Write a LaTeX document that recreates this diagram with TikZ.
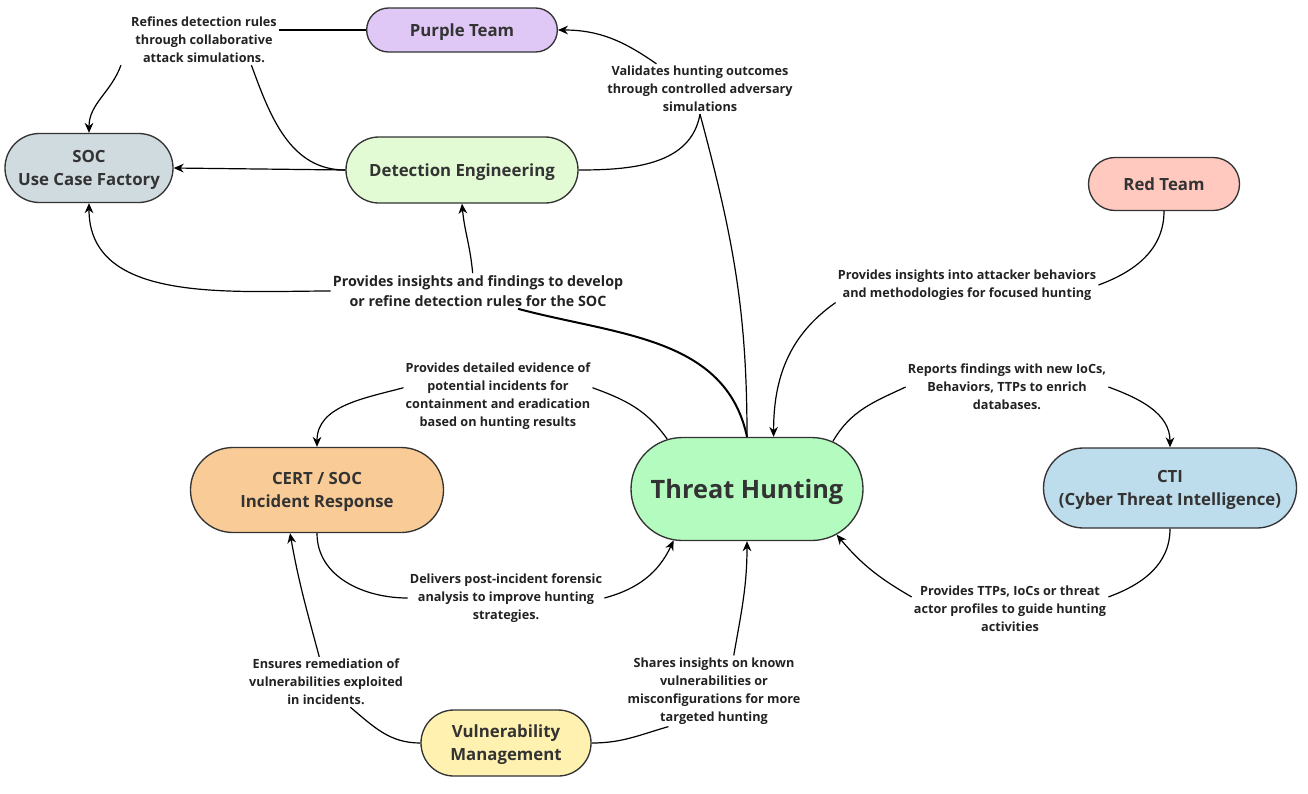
\documentclass[tikz,border=0pt]{standalone}
\usepackage{fontspec}
\setmainfont{Open Sans}
\usetikzlibrary{shapes.misc,arrows.meta,positioning}
\definecolor{edgegrey}{HTML}{333333}
\definecolor{textgrey}{HTML}{333333}
\definecolor{notegrey}{HTML}{222222}
\definecolor{purplefill}{HTML}{DFC8F5}
\definecolor{socfill}{HTML}{D0DBE0}
\definecolor{detfill}{HTML}{E2FBD4}
\definecolor{redfill}{HTML}{FFC9BF}
\definecolor{certfill}{HTML}{F9CC97}
\definecolor{huntfill}{HTML}{B3FBBE}
\definecolor{ctifill}{HTML}{BDDCEC}
\definecolor{vulnfill}{HTML}{FFF2B0}
\tikzset
{
    pill/.style = {rectangle, draw=edgegrey, line width=1pt, align=center, text=textgrey, font=\bfseries\fontsize{12.6}{17.25}\selectfont, inner sep=2pt, text depth=-1pt},
    hub/.style  = {rounded rectangle, draw=edgegrey, line width=1pt, text=textgrey, font=\bfseries\fontsize{19}{22}\selectfont, inner xsep=0pt, minimum width=174pt, minimum height=77.25pt, fill=huntfill, text depth=-0.5pt},
    note/.style = {align=center, text=notegrey, font=\bfseries\fontsize{9.5}{13.5}\selectfont, inner sep=1.5pt},
    link/.style = {draw=black, line width=0.9pt},
    arrow/.style = {link, -{Stealth[length=7.5pt, width=6.5pt]}}
}

\begin{document}
\begin{tikzpicture}[x=0.75pt, y=0.75pt]
	\path[fill=white] (0,0) rectangle (1308,-793);
	\useasboundingbox (0,0) rectangle (1308,-793);

	% blocks
	\node[pill, fill=purplefill, minimum width=143pt, minimum height=33pt, rounded corners=16.4pt] (pt) at (462,-30) {Purple Team};
	\node[pill, fill=socfill, minimum width=126pt, minimum height=51.75pt, rounded corners=25.8pt] (soc) at (89,-168) {SOC\\Use Case Factory};
	\node[pill, fill=detfill, minimum width=174pt, minimum height=49.5pt, rounded corners=24.7pt] (de) at (462,-170) {Detection Engineering};
	\node[pill, fill=redfill, minimum width=113.25pt, minimum height=39.75pt, rounded corners=19.8pt] (rt) at (1164,-184) {Red Team};
	\node[pill, fill=certfill, minimum width=189.75pt, minimum height=63.75pt, rounded corners=31.8pt] (cert) at (317,-490) {CERT / SOC\\Incident Response};
	\node[hub] (th) at (747,-489) {\makebox[0pt][c]{Threat Hunting}};
	\node[pill, fill=ctifill, minimum width=189.75pt, minimum height=60pt, rounded corners=29.9pt] (cti) at (1170,-488) {CTI\\(Cyber Threat Intelligence)};
	\node[pill, fill=vulnfill, minimum width=127.5pt, minimum height=49.5pt, rounded corners=24.7pt] (vm) at (506,-743) {Vulnerability\\Management};

	% labels
	\node[note] (lblRefine) at (204,-40) {Refines detection rules\\through collaborative\\attack simulations.};
	\node[note] (lblVal) at (700,-89) {Validates hunting outcomes\\through controlled adversary\\simulations};
	\node[note, font=\bfseries\fontsize{10.7}{15}\selectfont] (lblIns) at (478,-291) {Provides insights and findings to develop\\or refine detection rules for the SOC};
	\node[note] (lblAtt) at (967,-285) {Provides insights into attacker behaviors\\and methodologies for focused hunting};
	\node[note] (lblRep) at (1007,-387) {Reports findings with new IoCs,\\Behaviors, TTPs to enrich\\databases.};
	\node[note] (lblEvi) at (498,-396) {Provides detailed evidence of\\potential incidents for\\containment and eradication\\based on hunting results};
	\node[note] (lblDel) at (506,-598) {Delivers post-incident forensic\\analysis to improve hunting\\strategies.};
	\node[note] (lblTtp) at (1010,-609) {Provides TTPs, IoCs or threat\\actor profiles to guide hunting\\activities};
	\node[note] (lblEns) at (326,-682) {Ensures remediation of\\vulnerabilities exploited\\in incidents.};
	\node[note] (lblSha) at (714,-691) {Shares insights on known\\vulnerabilities or\\misconfigurations for more\\targeted hunting};

	% purple team and detection engineering
	\draw[link] (pt.west) -- (pt.west -| lblRefine.east);
	\draw[arrow] ([xshift=-6pt]lblRefine.south west) to[out=250,in=90] (soc.north);
	\draw[link] (de.west) to[out=180,in=-70] (lblRefine.-28);
	\draw[arrow] (de.west) -- (soc.east);
	\draw[link] (th.north) to[out=90,in=-75] (lblVal.south);
	\draw[link] (de.east) to[out=0,in=-100] (lblVal.south);
	\draw[arrow] (lblVal.150) to[out=145,in=0] (pt.east);

	% findings for the SOC
	\draw[link, line width=1.5pt] (th.north) to[out=102,in=-15] ([xshift=30pt]lblIns.south);
	\draw[arrow] (lblIns.west) to[out=180,in=-90] (soc.south);
	\draw[arrow] ([xshift=-4pt]lblIns.north) to[out=95,in=-85] (de.south);

	% red team and cti
	\draw[link] (rt.south) to[out=-90,in=20] (lblAtt.east);
	\draw[arrow] (lblAtt.south west) to[out=215,in=90] (th.63);
	\draw[link] (th.29) to[out=60,in=205] (lblRep.west);
	\draw[arrow] (lblRep.east) to[out=-20,in=90] (cti.north);
	\draw[link] (cti.south) to[out=-90,in=20] (lblTtp.7);
	\draw[arrow] (lblTtp.173) to[out=150,in=-50] (th.-27);

	% incident response and vulnerabilities
	\draw[link] (th.148) to[out=125,in=-20] (lblEvi.5);
	\draw[arrow] (lblEvi.175) to[out=195,in=90] (cert.north);
	\draw[link] (cert.south) to[out=-90,in=180] (lblDel.west);
	\draw[arrow] (lblDel.east) to[out=15,in=-115] (th.215);
	\draw[link] (vm.west) to[out=180,in=-40] (lblEns.-46);
	\draw[arrow] (lblEns.105) to[out=105,in=-80] (cert.238);
	\draw[link] (vm.east) to[out=0,in=196] (lblSha.-142);
	\draw[arrow] (lblSha.61) to[out=80,in=-90] (th.south);
\end{tikzpicture}
\end{document}
